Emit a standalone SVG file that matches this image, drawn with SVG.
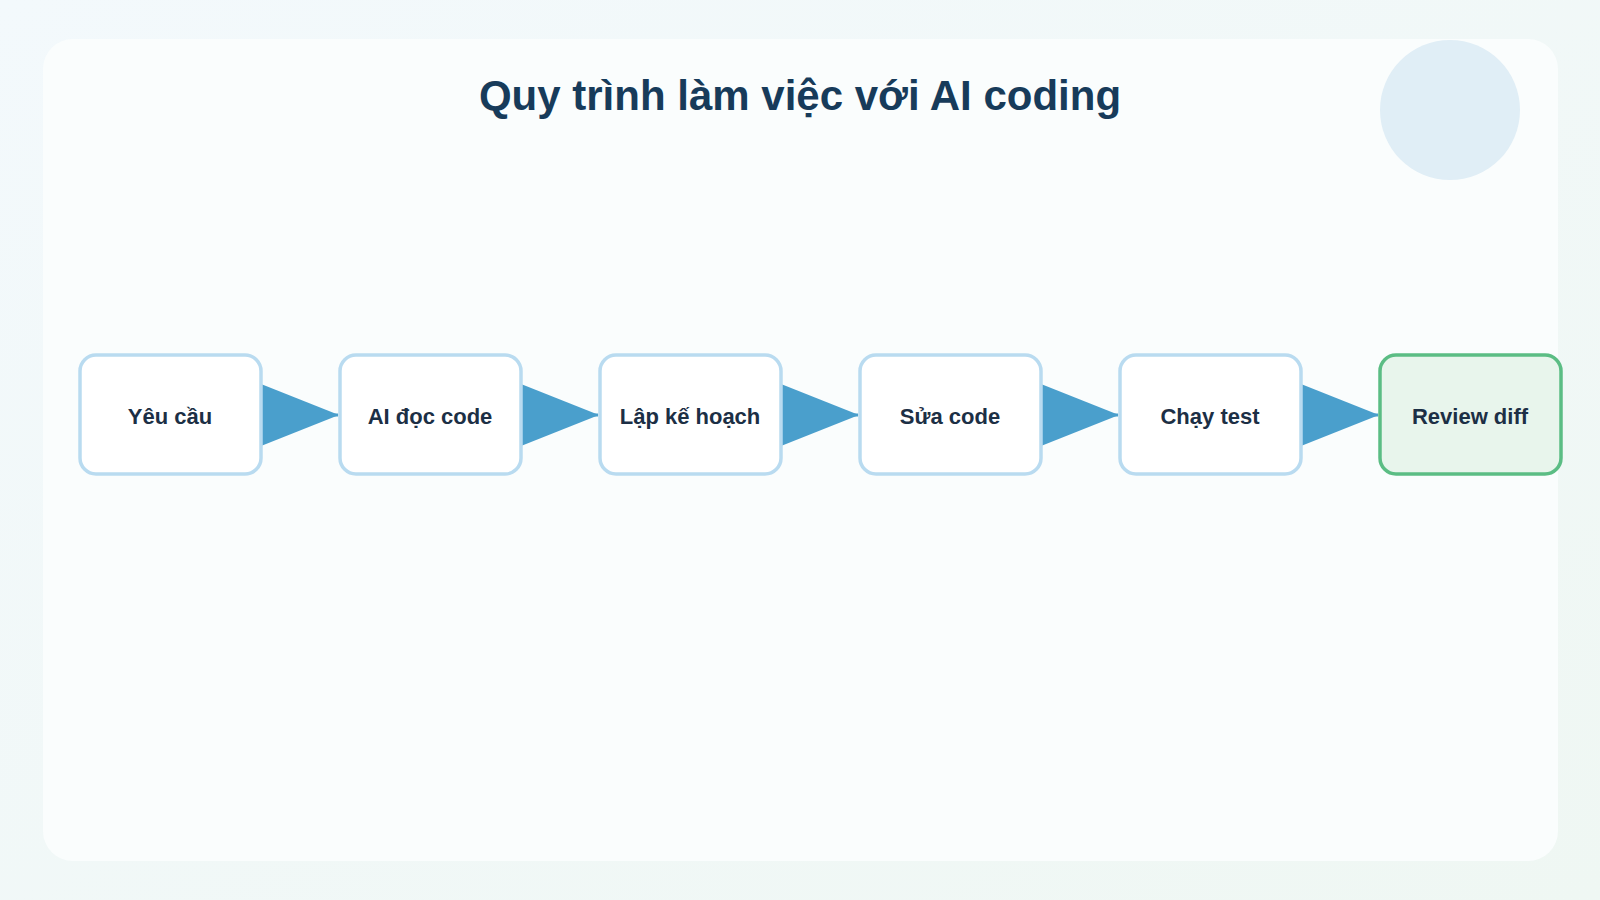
<svg xmlns="http://www.w3.org/2000/svg" width="1600" height="900" viewBox="0 0 1600 900">
<defs>
<linearGradient id="bg" x1="0" y1="0" x2="1" y2="1"><stop offset="0" stop-color="#f3f9fc"/><stop offset="1" stop-color="#eff7f3"/></linearGradient>
<style>
.n rect{fill:#fff;stroke:#b9dbf0;stroke-width:3.5}
.n text{font-family:"Liberation Sans",Arial,sans-serif;font-weight:bold;font-size:22px;fill:#1c2f45;text-anchor:middle}
.c path{fill:#4a9fcc}
.c line{stroke:#4a9fcc;stroke-width:3}
</style>
</defs>
<rect width="1600" height="900" fill="url(#bg)"/>
<rect x="43" y="39" width="1515" height="822" rx="30" fill="#fafdfd"/>
<circle cx="1450" cy="110" r="70" fill="#e0eef6"/>
<text x="800" y="110" text-anchor="middle" font-family="'Liberation Sans',Arial,sans-serif" font-weight="bold" font-size="42" fill="#173b5a">Quy trình làm việc với AI coding</text>
<g class="c" id="connectors">
<path d="M261 384 L339 415 L261 446Z"/><line x1="300" y1="415" x2="338" y2="415"/>
<path d="M521 384 L599 415 L521 446Z"/><line x1="560" y1="415" x2="598" y2="415"/>
<path d="M781 384 L859 415 L781 446Z"/><line x1="820" y1="415" x2="858" y2="415"/>
<path d="M1041 384 L1119 415 L1041 446Z"/><line x1="1080" y1="415" x2="1118" y2="415"/>
<path d="M1301 384 L1379 415 L1301 446Z"/><line x1="1340" y1="415" x2="1378" y2="415"/>
</g>
<g class="n" id="n1"><rect x="80" y="355" width="181" height="119" rx="16"/><text x="170" y="424">Yêu cầu</text></g>
<g class="n" id="n2"><rect x="340" y="355" width="181" height="119" rx="16"/><text x="430" y="424">AI đọc code</text></g>
<g class="n" id="n3"><rect x="600" y="355" width="181" height="119" rx="16"/><text x="690" y="424">Lập kế hoạch</text></g>
<g class="n" id="n4"><rect x="860" y="355" width="181" height="119" rx="16"/><text x="950" y="424">Sửa code</text></g>
<g class="n" id="n5"><rect x="1120" y="355" width="181" height="119" rx="16"/><text x="1210" y="424">Chạy test</text></g>
<g class="n" id="n6"><rect x="1380" y="355" width="181" height="119" rx="16" style="fill:#e8f5ec;stroke:#5bbd84"/><text x="1470" y="424">Review diff</text></g>
</svg>
